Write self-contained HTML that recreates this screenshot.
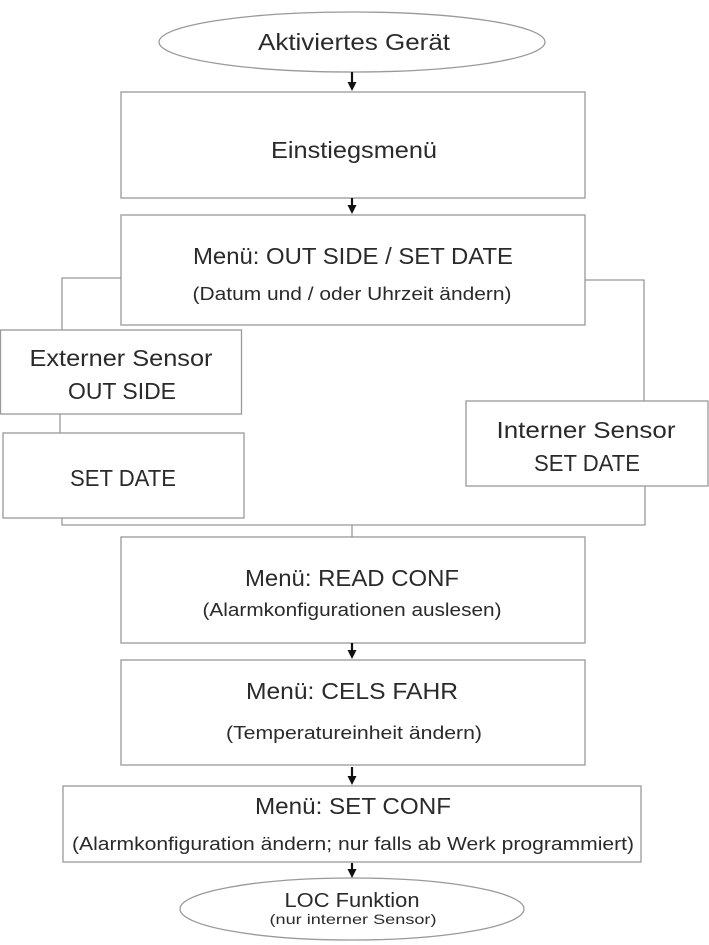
<!DOCTYPE html>
<html><head><meta charset="utf-8"><style>
html,body{margin:0;padding:0;background:#fff}
svg{display:block}
text{font-family:"Liberation Sans",sans-serif;fill:#2a2a2a;text-anchor:middle}
</style></head><body>
<svg width="709" height="945" viewBox="0 0 709 945" xmlns="http://www.w3.org/2000/svg">
<defs><marker id="a" markerWidth="9" markerHeight="9" refX="4" refY="4.5" orient="auto" markerUnits="userSpaceOnUse"><path d="M0,0 L9,4.5 L0,9 Z" fill="#111"/></marker></defs>
<g fill="none" stroke="#999" stroke-width="1.3">
<ellipse cx="352" cy="42" rx="193" ry="30"/>
<rect x="121" y="92" width="464" height="106"/>
<rect x="121" y="215" width="464" height="110"/>
<rect x="0.5" y="330" width="241" height="84"/>
<rect x="3" y="433" width="241" height="85"/>
<rect x="466" y="401" width="242" height="85"/>
<rect x="121" y="537" width="464" height="106"/>
<rect x="121" y="660" width="464" height="105"/>
<rect x="63" y="786" width="578" height="76"/>
<ellipse cx="352" cy="909" rx="172" ry="31"/>
<path d="M121 278 H62 V330"/>
<path d="M585 280 H644 V401"/>
<path d="M60 414 V433"/>
<path d="M62 518 V525 H645 V486"/>
<path d="M352 525 V537"/>
</g>
<g stroke="#111" stroke-width="2.2">
<line x1="352" y1="72" x2="352" y2="86" marker-end="url(#a)"/>
<line x1="352" y1="198" x2="352" y2="209" marker-end="url(#a)"/>
<line x1="352" y1="643" x2="352" y2="654" marker-end="url(#a)"/>
<line x1="352" y1="767" x2="352" y2="780" marker-end="url(#a)"/>
<line x1="352" y1="863" x2="352" y2="873" marker-end="url(#a)"/>
</g>
<g lengthAdjust="spacingAndGlyphs">
<text x="354" y="50" font-size="23" textLength="192" lengthAdjust="spacingAndGlyphs">Aktiviertes Gerät</text>
<text x="354" y="158" font-size="23" textLength="166" lengthAdjust="spacingAndGlyphs">Einstiegsmenü</text>
<text x="353" y="264" font-size="23" textLength="320" lengthAdjust="spacingAndGlyphs">Menü: OUT SIDE / SET DATE</text>
<text x="352" y="300" font-size="18" textLength="319" lengthAdjust="spacingAndGlyphs">(Datum und / oder Uhrzeit ändern)</text>
<text x="121" y="366" font-size="23" textLength="183" lengthAdjust="spacingAndGlyphs">Externer Sensor</text>
<text x="122" y="399" font-size="23" textLength="108" lengthAdjust="spacingAndGlyphs">OUT SIDE</text>
<text x="123" y="486" font-size="23" textLength="106" lengthAdjust="spacingAndGlyphs">SET DATE</text>
<text x="586" y="438" font-size="23" textLength="179" lengthAdjust="spacingAndGlyphs">Interner Sensor</text>
<text x="587" y="471" font-size="23" textLength="106" lengthAdjust="spacingAndGlyphs">SET DATE</text>
<text x="352" y="586" font-size="23" textLength="214" lengthAdjust="spacingAndGlyphs">Menü: READ CONF</text>
<text x="352" y="616" font-size="18" textLength="299" lengthAdjust="spacingAndGlyphs">(Alarmkonfigurationen auslesen)</text>
<text x="352" y="699" font-size="23" textLength="212" lengthAdjust="spacingAndGlyphs">Menü: CELS FAHR</text>
<text x="354" y="739" font-size="18" textLength="256" lengthAdjust="spacingAndGlyphs">(Temperatureinheit ändern)</text>
<text x="353" y="814" font-size="23" textLength="196" lengthAdjust="spacingAndGlyphs">Menü: SET CONF</text>
<text x="353" y="850" font-size="18" textLength="562" lengthAdjust="spacingAndGlyphs">(Alarmkonfiguration ändern; nur falls ab Werk programmiert)</text>
<text x="352" y="907" font-size="20" textLength="135" lengthAdjust="spacingAndGlyphs">LOC Funktion</text>
<text x="353" y="924" font-size="14" textLength="167" lengthAdjust="spacingAndGlyphs">(nur interner Sensor)</text>
</g>
</svg>
</body></html>
